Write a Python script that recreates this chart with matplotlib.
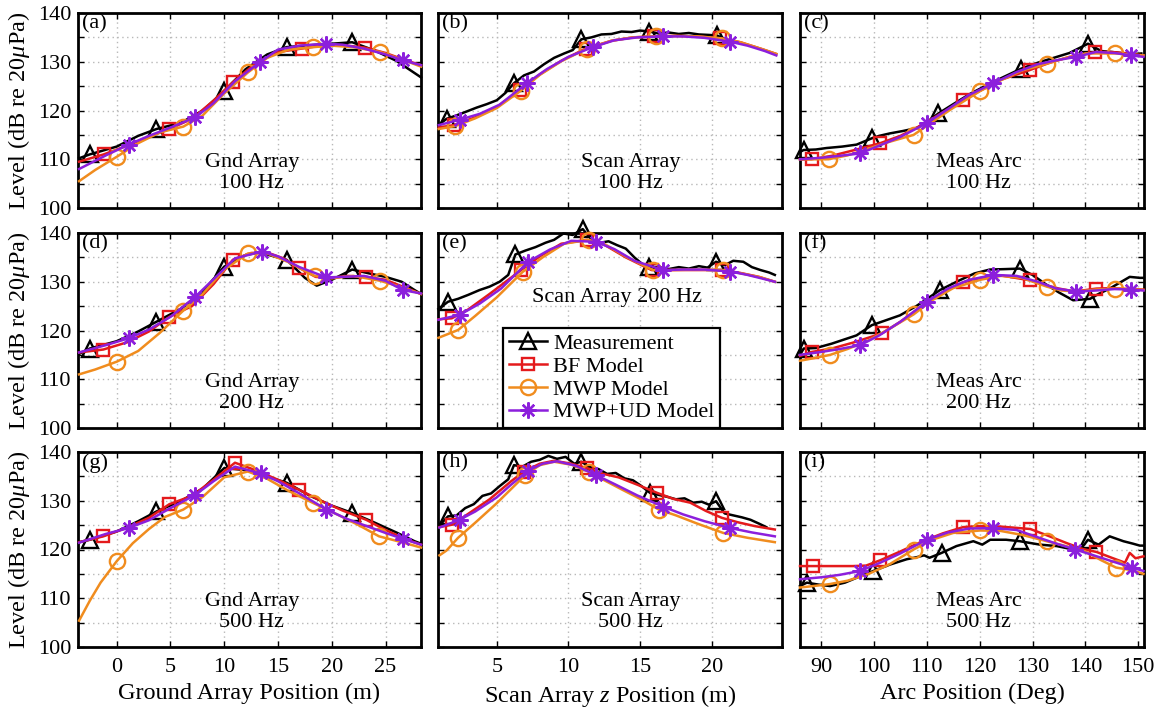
import numpy as np
import matplotlib
matplotlib.use("Agg")
import matplotlib.pyplot as plt

plt.rcParams['font.family'] = ['Liberation Serif', 'DejaVu Serif']
plt.rcParams['mathtext.fontset'] = 'custom'
plt.rcParams['mathtext.rm'] = 'Liberation Serif'
plt.rcParams['mathtext.it'] = 'Liberation Serif:italic'

# ---------------- data ----------------
series_names = ["Measurement", "BF Model", "MWP Model", "MWP+UD Model"]
ylabel_text = "Level (dB re 20$\\mu$Pa)"
xlabels = ["Ground Array Position (m)", "Scan Array $z$ Position (m)", "Arc Position (Deg)"]
panel_letters = ["(a)", "(b)", "(c)", "(d)", "(e)", "(f)", "(g)", "(h)", "(i)"]
panel_texts = ["Gnd Array\n100 Hz", "Scan Array\n100 Hz", "Meas Arc\n100 Hz",
               "Gnd Array\n200 Hz", "Scan Array 200 Hz", "Meas Arc\n200 Hz",
               "Gnd Array\n500 Hz", "Scan Array\n500 Hz", "Meas Arc\n500 Hz"]
gnd_ticks = [0, 5, 10, 15, 20, 25]
scan_ticks = [5, 10, 15, 20]
arc_ticks = [90, 100, 110, 120, 130, 140, 150]
level_ticks = [100, 105, 110, 115, 120, 125, 130, 135, 140]

# (a) Gnd Array 100 Hz
a_meas_x = [-3.5, -2.5, 0, 2, 3.7, 6, 8, 10, 12, 14, 15.8, 18, 20, 21.9, 24, 26, 28.3]
a_meas_y = [110.2, 111.0, 112.6, 114.8, 116.2, 117.5, 120.0, 124.0, 128.5, 131.5, 133.0, 133.4, 133.7, 134.0, 132.3, 130.2, 126.8]
a_meas_mk = [1, 4, 7, 10, 13]
a_bf_x = [-3.5, -1.2, 1, 3, 4.9, 7, 9, 10.8, 13, 15, 17.2, 19, 21, 23.1, 25, 27, 28.3]
a_bf_y = [109.5, 111.0, 112.8, 114.6, 116.2, 118.3, 122.0, 125.8, 129.8, 132.0, 132.7, 133.3, 133.4, 132.9, 131.8, 130.2, 129.3]
a_bf_mk = [1, 4, 7, 10, 13]
a_mwp_x = [-3.5, -2, 0, 2, 4, 6.2, 8, 10, 12.2, 14, 16, 18.3, 20, 22, 24.5, 26.5, 28.3]
a_mwp_y = [105.5, 107.8, 110.5, 113.3, 115.5, 116.7, 119.0, 123.5, 127.8, 130.8, 132.5, 133.0, 133.3, 133.0, 132.0, 130.5, 129.0]
a_mwp_mk = [2, 5, 8, 11, 14]
a_ud_x = [-3.5, -1, 1.1, 3, 5, 7.3, 9, 11, 13.3, 15, 17, 19.5, 21, 23, 25, 26.6, 28.3]
a_ud_y = [108.0, 110.8, 113.0, 114.8, 116.5, 118.6, 121.5, 126.0, 129.9, 132.5, 133.3, 133.7, 133.5, 132.7, 131.5, 130.3, 129.3]
a_ud_mk = [2, 5, 8, 11, 15]

# (b) Scan Array 100 Hz
b_meas_x = [0.93, 1.5, 2.2, 2.9, 3.6, 4.3, 5.0, 5.6, 6.2, 6.9, 7.6, 8.3, 9.0, 9.7, 10.3, 10.9, 11.6, 12.3, 13.0,
            13.7, 14.4, 15.0, 15.65, 16.3, 17.0, 17.7, 18.4, 19.1, 19.8, 20.35, 21.0]
b_meas_y = [117.0, 118.3, 119.0, 119.8, 120.6, 121.3, 122.1, 123.6, 125.6, 127.2, 128.0, 129.5, 130.8, 131.7, 132.4,
            134.6, 135.0, 135.6, 135.7, 136.2, 136.1, 136.4, 136.2, 135.8, 136.0, 135.7, 135.9, 135.6, 135.5, 135.4, 134.6]
b_meas_mk = [1, 8, 15, 22, 29]
b_bf_x = [0.95, 2.0, 3.5, 5.0, 6.6, 8.0, 9.5, 11.2, 13.0, 14.5, 16.0, 17.5, 19.0, 20.6, 22.0, 23.5, 24.5]
b_bf_y = [116.5, 117.0, 118.6, 120.7, 124.2, 127.4, 130.2, 132.7, 134.3, 135.0, 135.2, 135.3, 135.2, 134.8, 134.0, 132.6, 131.6]
b_bf_mk = [1, 4, 7, 10, 13]
b_mwp_x = [0.95, 2.1, 3.5, 5.0, 6.7, 8.0, 9.5, 11.3, 13.0, 14.5, 16.1, 17.5, 19.0, 20.7, 22.0, 23.5, 24.5]
b_mwp_y = [116.2, 116.8, 118.4, 120.5, 124.1, 127.3, 130.1, 132.7, 134.3, 135.0, 135.2, 135.3, 135.2, 134.8, 134.0, 132.6, 131.6]
b_mwp_mk = [1, 4, 7, 10, 13]
b_ud_x = [0.95, 2.4, 3.8, 5.2, 7.1, 8.5, 10.0, 11.7, 13.2, 14.8, 16.6, 18.0, 19.5, 21.3, 22.5, 23.7, 24.5]
b_ud_y = [117.0, 118.1, 119.3, 121.2, 125.6, 128.5, 131.0, 133.0, 134.4, 135.0, 135.2, 135.2, 134.9, 134.1, 133.3, 132.2, 131.3]
b_ud_mk = [1, 4, 7, 10, 13]

# (c) Meas Arc 100 Hz
c_meas_x = [86, 86.7, 89, 91, 94, 96.7, 99.6, 101, 103, 105.5, 108.1, 110, 112.2, 115, 118, 121, 124, 127.9,
            131, 134, 137, 140.5, 143, 146, 148.5, 150.6]
c_meas_y = [111.5, 111.9, 112.0, 112.3, 112.6, 113.0, 114.3, 114.8, 115.3, 115.8, 116.4, 117.6, 119.4, 121.3,
            123.3, 125.0, 126.6, 128.6, 129.8, 130.8, 131.8, 133.7, 132.2, 131.9, 131.5, 131.7]
c_meas_mk = [1, 6, 12, 17, 21]
c_bf_x = [86, 88.2, 92, 96, 101.2, 105, 109, 113, 116.9, 120, 124, 129.5, 133, 137, 141.8, 145, 148, 151]
c_bf_y = [110.0, 110.0, 110.7, 111.8, 113.3, 114.8, 117.0, 119.6, 122.1, 124.0, 126.3, 128.3, 129.7, 131.0, 132.0, 132.0, 131.7, 131.3]
c_bf_mk = [1, 4, 8, 11, 14]
c_mwp_x = [86, 88, 91.4, 95, 99, 103, 107.5, 111, 114.5, 120.1, 124, 128, 132.7, 136, 140, 145.6, 148.5, 151]
c_mwp_y = [110.0, 110.0, 110.0, 110.8, 112.2, 113.6, 115.0, 117.6, 120.2, 124.0, 126.2, 128.2, 129.6, 130.7, 131.7, 131.7, 131.5, 131.3]
c_mwp_mk = [2, 6, 9, 12, 15]
c_ud_x = [86, 90, 93.5, 97.4, 101, 105, 110, 114, 118, 122.6, 127, 131, 134.5, 138.3, 142, 145.5, 148.7, 151]
c_ud_y = [110.0, 110.3, 110.7, 111.2, 112.8, 114.6, 117.4, 120.3, 123.2, 125.6, 127.9, 129.5, 130.3, 131.0, 132.0, 131.8, 131.3, 131.0]
c_ud_mk = [3, 6, 9, 13, 16]

# (d) Gnd Array 200 Hz
d_meas_x = [-3.5, -2.5, 0, 2, 3.7, 6, 8, 10, 12, 13.3, 15.8, 17.5, 18.6, 20, 21.9, 23.5, 25, 26.5, 27.7, 28.3]
d_meas_y = [115.2, 116.3, 117.8, 119.8, 121.8, 124.5, 128.0, 133.1, 135.5, 136.0, 134.5, 130.8, 129.2, 130.4, 132.5,
            131.7, 131.0, 130.0, 128.3, 127.5]
d_meas_mk = [1, 4, 7, 10, 14]
d_bf_x = [-3.5, -1.24, 1, 3, 4.9, 7, 9, 10.8, 12.5, 14, 15.5, 17.0, 18.5, 20, 21.5, 23.2, 25, 26.6, 28.3]
d_bf_y = [115.5, 116.1, 117.6, 119.8, 122.8, 125.0, 129.5, 134.5, 135.9, 136.0, 134.8, 132.8, 131.0, 130.8, 131.2,
          131.0, 130.4, 129.0, 127.5]
d_bf_mk = [1, 4, 7, 11, 15]
d_mwp_x = [-3.5, -2, 0, 2, 4, 6.2, 8, 10, 12.2, 14, 16, 18.4, 20, 22, 24.5, 26.6, 28.3]
d_mwp_y = [111.0, 112.0, 113.6, 115.8, 119.5, 124.1, 127.5, 132.5, 135.8, 135.8, 134.0, 131.2, 130.7, 131.2, 130.2, 128.8, 127.5]
d_mwp_mk = [2, 5, 8, 11, 14]
d_ud_x = [-3.5, -1, 1.1, 3, 5, 7.3, 9, 11, 13.5, 15, 17, 19.5, 21, 23, 25, 26.6, 28.3]
d_ud_y = [115.5, 117.0, 118.4, 120.2, 122.8, 126.9, 130.5, 134.8, 136.2, 135.2, 133.0, 130.9, 131.0, 131.2, 130.2, 128.3, 127.6]
d_ud_mk = [2, 5, 8, 11, 15]

# (e) Scan Array 200 Hz
e_meas_x = [0.93, 1.6, 2.3, 3.0, 3.8, 4.5, 5.2, 5.8, 6.3, 7.0, 7.7, 8.4, 9.0, 9.65, 10.3, 11.0, 11.6, 12.2, 12.8,
            13.4, 14.0, 14.6, 15.2, 15.6, 16.3, 17.0, 17.7, 18.4, 19.1, 19.7, 20.3, 20.9, 21.5, 22.2, 22.8, 23.4, 24.0, 24.4]
e_meas_y = [124.4, 125.9, 126.5, 127.3, 128.3, 129.0, 130.0, 131.4, 135.6, 136.4, 137.1, 138.0, 138.6, 139.9, 139.6,
            140.8, 138.7, 138.0, 138.3, 137.5, 136.8, 135.0, 133.5, 133.1, 133.0, 132.6, 133.0, 132.7, 133.2, 132.9,
            134.1, 133.4, 134.3, 134.1, 133.0, 132.4, 131.9, 131.4]
e_meas_mk = [1, 8, 15, 23, 30]
e_bf_x = [0.93, 1.86, 3.0, 4.5, 6.7, 8.0, 9.5, 11.3, 12.5, 14.0, 15.8, 17.0, 18.5, 20.7, 22.0, 23.3, 24.4]
e_bf_y = [122.3, 122.5, 124.3, 127.5, 132.4, 135.2, 137.8, 138.6, 137.6, 135.0, 132.4, 132.4, 132.4, 132.4, 131.8, 131.0, 130.0]
e_bf_mk = [1, 4, 7, 10, 13]
e_mwp_x = [0.93, 2.3, 3.5, 5.0, 6.8, 8.2, 9.7, 11.4, 12.6, 14.1, 15.9, 17.2, 18.7, 20.8, 22.1, 23.4, 24.4]
e_mwp_y = [118.5, 120.1, 123.0, 126.8, 132.0, 135.0, 137.8, 138.6, 137.6, 135.0, 132.4, 132.4, 132.5, 132.4, 131.7, 130.9, 130.0]
e_mwp_mk = [1, 4, 7, 10, 13]
e_ud_x = [0.93, 2.4, 3.8, 5.3, 7.2, 8.7, 10.2, 11.9, 13.2, 14.6, 16.6, 18.0, 19.5, 21.3, 22.5, 23.6, 24.4]
e_ud_y = [122.2, 123.2, 125.5, 128.6, 134.1, 136.6, 138.4, 138.2, 136.7, 134.3, 132.4, 132.5, 132.5, 132.1, 131.4, 130.6, 130.0]
e_ud_mk = [1, 4, 7, 10, 13]

# (f) Meas Arc 200 Hz
f_meas_x = [86, 86.7, 89, 92, 96.7, 99.6, 102, 104.9, 108, 112.5, 116, 119, 121.9, 125, 127.6, 130, 132.5, 135,
            137.7, 140.9, 142.5, 144.6, 146.5, 148.4, 150.3, 151]
f_meas_y = [115.0, 116.3, 116.4, 117.3, 119.0, 121.1, 122.0, 123.1, 125.0, 128.3, 130.2, 131.7, 132.5, 132.6, 132.7,
            131.4, 129.5, 127.8, 126.2, 126.5, 127.5, 128.6, 129.8, 131.0, 130.8, 130.8]
f_meas_mk = [1, 5, 9, 14, 19]
f_bf_x = [86, 88.2, 92, 96, 101.5, 105, 109, 113, 116.9, 120, 124, 129.5, 132.5, 135, 138, 142.1, 145, 148, 151]
f_bf_y = [114.8, 115.6, 116.3, 117.5, 119.4, 121.8, 124.9, 127.8, 129.9, 130.7, 131.3, 130.3, 129.3, 128.6, 128.0,
          128.6, 128.7, 128.5, 128.4]
f_bf_mk = [1, 4, 8, 11, 15]
f_mwp_x = [86, 88.5, 91.7, 95, 99, 103, 107.5, 111, 115, 120.1, 124, 128, 132.7, 135.5, 138.5, 142, 145.6, 148.5, 151]
f_mwp_y = [113.8, 114.3, 115.0, 116.2, 118.0, 120.4, 123.3, 126.2, 128.7, 130.4, 131.2, 130.8, 129.0, 128.2, 128.0,
           128.4, 128.6, 128.5, 128.3]
f_mwp_mk = [2, 6, 9, 12, 16]
f_ud_x = [86, 90, 93.5, 97.4, 101, 105, 110, 114, 118, 122.6, 127, 131, 134.5, 138.3, 142, 145.5, 148.7, 151]
f_ud_y = [115.0, 115.6, 116.2, 117.0, 119.0, 121.8, 125.9, 128.6, 130.4, 131.4, 131.2, 130.0, 128.6, 128.0, 128.2,
          128.5, 128.4, 128.2]
f_ud_mk = [3, 6, 9, 13, 16]

# (g) Gnd Array 500 Hz
g_meas_x = [-3.5, -2.5, 0, 2, 3.7, 6, 8, 10, 12, 13.5, 15.8, 18, 20, 21.9, 24, 26, 27.7, 28.3]
g_meas_y = [121.5, 122.0, 123.7, 125.8, 127.8, 130.0, 132.5, 136.7, 136.3, 135.3, 133.7, 131.0, 129.0, 127.5, 125.5,
            123.5, 121.7, 121.2]
g_meas_mk = [1, 4, 7, 10, 13]
g_bf_x = [-3.5, -1.24, 1, 3, 4.9, 7, 9, 11.0, 13, 15, 17.0, 19, 21, 23.2, 25, 27, 28.3]
g_bf_y = [121.5, 122.7, 124.5, 126.5, 129.3, 131.0, 134.3, 137.8, 136.2, 134.3, 132.2, 130.0, 128.0, 126.1, 124.0, 122.0, 121.0]
g_bf_mk = [1, 4, 7, 10, 13]
g_mwp_x = [-3.5, -2.5, -1.5, 0, 1.5, 3, 4.5, 6.2, 8, 10, 12.2, 14, 16, 18.3, 20.5, 22.5, 24.4, 26.5, 28.3]
g_mwp_y = [105.4, 109.5, 113.2, 117.6, 121.3, 124.2, 126.7, 128.2, 130.8, 134.8, 136.0, 134.5, 132.0, 129.5, 127.2,
           125.0, 122.7, 121.5, 120.4]
g_mwp_mk = [3, 7, 10, 13, 16]
g_ud_x = [-3.5, -1, 1.1, 3, 5, 7.3, 9, 11, 13.4, 15, 17, 19.5, 21.5, 23.5, 25, 26.6, 28.3]
g_ud_y = [121.4, 123.2, 124.4, 126.0, 128.5, 131.2, 134.0, 137.0, 135.6, 134.0, 131.5, 128.2, 126.2, 124.6, 123.4, 122.2, 121.0]
g_ud_mk = [2, 5, 8, 11, 15]

# (h) Scan Array 500 Hz
h_meas_x = [1.05, 1.6, 2.2, 2.8, 3.4, 4.0, 4.6, 5.2, 5.8, 6.2, 6.8, 7.4, 8.0, 8.6, 9.2, 9.8, 10.4, 10.9, 11.5,
            12.1, 12.7, 13.3, 13.9, 14.5, 15.1, 15.7, 16.3, 16.9, 17.5, 18.1, 18.7, 19.3, 19.8, 20.3, 20.9, 21.5,
            22.1, 22.7, 23.3, 23.8]
h_meas_y = [125.1, 126.8, 127.0, 128.5, 129.3, 131.0, 131.5, 133.0, 134.4, 137.3, 137.0, 138.0, 138.4, 139.2, 138.6,
            139.0, 137.6, 138.0, 136.9, 136.5, 135.5, 135.7, 134.6, 134.2, 133.0, 131.6, 131.2, 130.8, 130.3, 130.5,
            129.6, 129.8, 129.2, 129.9, 127.4, 127.0, 126.6, 126.1, 125.3, 124.6]
h_meas_mk = [1, 9, 17, 25, 33]
h_bf_x = [1.0, 1.9, 3.0, 4.5, 6.0, 6.9, 8.0, 9.0, 10.2, 11.3, 12.3, 13.5, 14.8, 16.2, 17.3, 18.5, 19.6, 20.7, 21.8, 23.0, 24.4]
h_bf_y = [124.6, 125.1, 127.3, 130.3, 134.0, 136.0, 137.6, 138.2, 137.6, 136.7, 135.6, 134.8, 133.3, 131.6, 130.4,
          129.6, 127.9, 126.5, 125.6, 124.8, 124.1]
h_bf_mk = [1, 5, 9, 13, 17]
h_mwp_x = [1.0, 1.5, 2.3, 3.5, 5.0, 7.0, 8.0, 9.0, 10.2, 11.4, 12.5, 13.8, 15.0, 16.3, 17.5, 19.0, 20.8, 22.5, 24.4]
h_mwp_y = [118.8, 119.8, 122.4, 125.5, 129.5, 135.3, 137.3, 138.0, 137.4, 136.0, 134.2, 132.2, 130.4, 128.2, 127.0,
           125.3, 123.4, 122.4, 121.5]
h_mwp_mk = [2, 5, 9, 13, 16]
h_ud_x = [1.0, 2.4, 3.5, 5.0, 6.0, 7.2, 8.2, 9.2, 10.5, 11.9, 13.3, 14.8, 16.6, 18.0, 19.5, 21.3, 22.8, 24.4]
h_ud_y = [124.5, 126.1, 127.8, 130.7, 133.3, 136.2, 137.6, 138.1, 137.2, 135.3, 133.3, 131.1, 128.8, 127.2, 125.8,
          124.4, 123.5, 122.7]
h_ud_mk = [1, 5, 9, 12, 15]

# (i) Meas Arc 500 Hz
i_meas_x = [86, 87.3, 89.5, 91.7, 94.5, 96.7, 99.9, 103, 106.2, 108, 109.5, 110.5, 112.8, 115.6, 118.8, 120.5, 122,
            125, 127.6, 131.4, 134.6, 137.7, 139.5, 140.5, 142.5, 144.6, 147.2, 149, 150.3, 151]
i_meas_y = [112.5, 113.2, 112.8, 112.5, 113.2, 114.2, 115.6, 116.9, 118.0, 118.4, 118.8, 118.3, 119.3, 120.7, 121.7,
            121.0, 122.0, 122.0, 121.7, 121.0, 120.7, 120.0, 120.6, 122.0, 121.0, 122.7, 121.7, 121.2, 120.8, 120.8]
i_meas_mk = [1, 6, 12, 18, 23]
i_bf_x = [86, 88.5, 92, 96, 98.5, 101.2, 105, 109, 113, 116.9, 120, 124, 129.6, 133, 136.5, 139.5, 142.1, 145,
          147.5, 148.4, 149.5, 151]
i_bf_y = [116.6, 116.6, 116.6, 116.6, 116.7, 117.8, 119.6, 121.6, 123.3, 124.6, 124.8, 124.7, 124.2, 122.8, 121.3,
          120.1, 119.5, 118.3, 117.3, 119.3, 118.2, 118.6]
i_bf_mk = [1, 5, 9, 12, 16]
i_mwp_x = [86, 88.5, 91.6, 95, 99, 103, 107.5, 111, 115, 120.1, 124, 128, 132.7, 136, 140, 143, 145.8, 148.5, 151]
i_mwp_y = [112.2, 112.5, 112.9, 113.6, 115.0, 117.0, 120.0, 122.0, 123.4, 123.9, 123.8, 123.0, 121.7, 120.8, 119.6,
           117.8, 116.3, 115.8, 115.0]
i_mwp_mk = [2, 6, 9, 12, 16]
i_ud_x = [86, 90, 93.5, 97.4, 101, 105, 110, 114, 118, 122.6, 127, 131, 134.5, 138.1, 141, 145, 148.8, 151]
i_ud_y = [113.9, 114.3, 114.8, 115.6, 117.2, 119.2, 122.0, 123.5, 124.3, 124.4, 124.0, 122.5, 121.2, 120.0, 119.0,
          117.6, 116.3, 115.6]
i_ud_mk = [3, 6, 9, 13, 16]

panels = [
    [(a_meas_x, a_meas_y, a_meas_mk), (a_bf_x, a_bf_y, a_bf_mk), (a_mwp_x, a_mwp_y, a_mwp_mk), (a_ud_x, a_ud_y, a_ud_mk)],
    [(b_meas_x, b_meas_y, b_meas_mk), (b_bf_x, b_bf_y, b_bf_mk), (b_mwp_x, b_mwp_y, b_mwp_mk), (b_ud_x, b_ud_y, b_ud_mk)],
    [(c_meas_x, c_meas_y, c_meas_mk), (c_bf_x, c_bf_y, c_bf_mk), (c_mwp_x, c_mwp_y, c_mwp_mk), (c_ud_x, c_ud_y, c_ud_mk)],
    [(d_meas_x, d_meas_y, d_meas_mk), (d_bf_x, d_bf_y, d_bf_mk), (d_mwp_x, d_mwp_y, d_mwp_mk), (d_ud_x, d_ud_y, d_ud_mk)],
    [(e_meas_x, e_meas_y, e_meas_mk), (e_bf_x, e_bf_y, e_bf_mk), (e_mwp_x, e_mwp_y, e_mwp_mk), (e_ud_x, e_ud_y, e_ud_mk)],
    [(f_meas_x, f_meas_y, f_meas_mk), (f_bf_x, f_bf_y, f_bf_mk), (f_mwp_x, f_mwp_y, f_mwp_mk), (f_ud_x, f_ud_y, f_ud_mk)],
    [(g_meas_x, g_meas_y, g_meas_mk), (g_bf_x, g_bf_y, g_bf_mk), (g_mwp_x, g_mwp_y, g_mwp_mk), (g_ud_x, g_ud_y, g_ud_mk)],
    [(h_meas_x, h_meas_y, h_meas_mk), (h_bf_x, h_bf_y, h_bf_mk), (h_mwp_x, h_mwp_y, h_mwp_mk), (h_ud_x, h_ud_y, h_ud_mk)],
    [(i_meas_x, i_meas_y, i_meas_mk), (i_bf_x, i_bf_y, i_bf_mk), (i_mwp_x, i_mwp_y, i_mwp_mk), (i_ud_x, i_ud_y, i_ud_mk)],
]

# ---------------- style ----------------
colors = ['#000000', '#e41a1c', '#f08c1e', '#8c1fdc']
markers = ['^', 's', 'o', (8, 2, 0)]
msizes = [11, 8.5, 11, 11.5]
col_xlims = [(-3.6, 28.3), (0.9, 24.9), (86.0, 151.1)]
col_ticks = [gnd_ticks, scan_ticks, arc_ticks]
col_text_x = [0.507, 0.56, 0.52]

W, H = 1165, 712
fig = plt.figure(figsize=(W / 100, H / 100), dpi=100)
col_left = [78, 438, 800]
col_w = [343, 344, 344]
row_top = [13, 233, 452]
row_h = 195

axes = []
for r in range(3):
    for c in range(3):
        k = r * 3 + c
        ax = fig.add_axes([col_left[c] / W, 1 - (row_top[r] + row_h) / H, col_w[c] / W, row_h / H])
        axes.append(ax)
        handles = []
        for s, (xs, ys, mk) in enumerate(panels[k]):
            ln, = ax.plot(xs, ys, color=colors[s], lw=1.8, marker=markers[s], markevery=mk,
                          ms=msizes[s], mfc='none', mec=colors[s], mew=1.7,
                          clip_on=False, zorder=3 + s, label=series_names[s])
            handles.append(ln)
        ax.set_xlim(*col_xlims[c])
        ax.set_ylim(100, 140)
        ax.set_xticks(col_ticks[c])
        ax.set_yticks(level_ticks)
        ax.set_axisbelow(True)
        ax.grid(True, linestyle=(0, (1, 2.5)), color='#b8b8b8', linewidth=1.0)
        ax.tick_params(direction='in', top=True, right=True, length=4, width=1.0,
                       labelsize=16, pad=5)
        ax.tick_params(axis='x', pad=8)
        for sp in ax.spines.values():
            sp.set_linewidth(2.0)
        if c == 0:
            ax.set_yticklabels([str(v) if v % 10 == 0 else '' for v in level_ticks])
            ax.set_ylabel(ylabel_text, fontsize=17.5, labelpad=4)
        else:
            ax.set_yticklabels([])
        if r == 2:
            ax.set_xlabel(xlabels[c], fontsize=17.5, labelpad=4)
        else:
            ax.set_xticklabels([])
        ax.text(0.012, 0.995, panel_letters[k], transform=ax.transAxes, ha='left', va='top', fontsize=16)
        if k == 4:
            ax.text(0.52, 0.667, panel_texts[k], transform=ax.transAxes, ha='center', va='center',
                    fontsize=16, zorder=10)
            leg = ax.legend(handles=handles, loc='lower left', bbox_to_anchor=(0.189, 0.0),
                            fontsize=16, frameon=True, fancybox=False, edgecolor='black',
                            framealpha=1.0, borderpad=0.25, labelspacing=0.1,
                            handlelength=1.75, handletextpad=0.25, borderaxespad=0.0)
            leg.get_frame().set_linewidth(1.6)
            leg.set_zorder(20)
        else:
            ax.text(col_text_x[c], 0.18, panel_texts[k], transform=ax.transAxes, ha='center',
                    va='center', fontsize=16, linespacing=1.1, zorder=10)

fig.savefig('out.png', dpi=100)
